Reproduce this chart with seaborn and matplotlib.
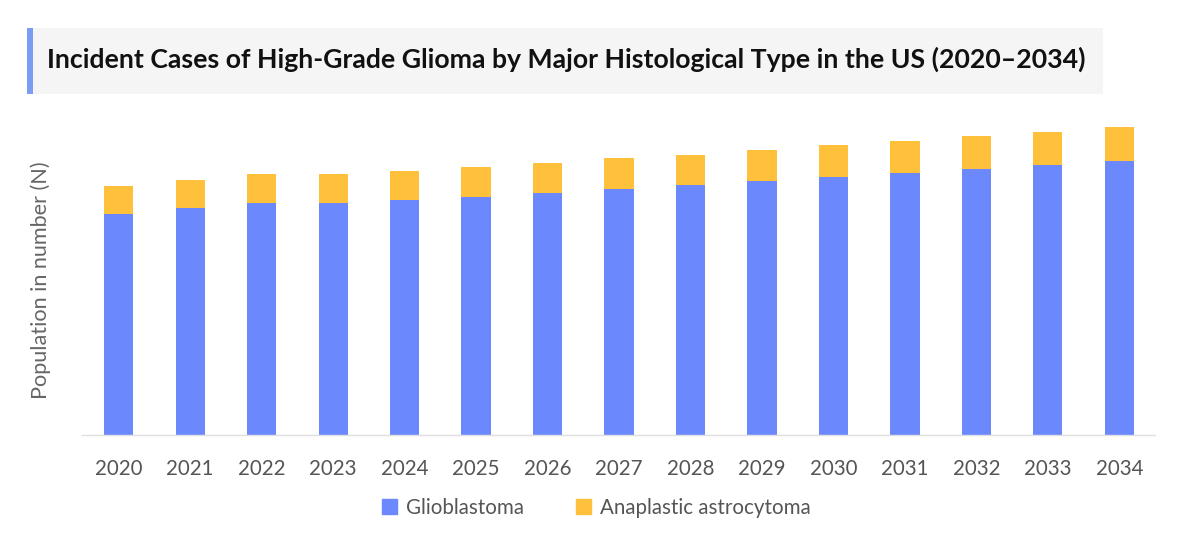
import numpy as np
import pandas as pd
import matplotlib
matplotlib.use("Agg")
import matplotlib.pyplot as plt
import matplotlib.patches as mpatches
import seaborn as sns

# -------------------------------
# Data
# -------------------------------
years = ["2020", "2021", "2022", "2023", "2024", "2025", "2026", "2027",
         "2028", "2029", "2030", "2031", "2032", "2033", "2034"]
glioblastoma = [11050, 11350, 11600, 11600, 11750, 11900, 12100, 12300,
                12500, 12700, 12900, 13100, 13300, 13500, 13700]
anaplastic = [1400, 1400, 1450, 1450, 1450, 1500, 1500, 1550,
              1500, 1550, 1600, 1600, 1630, 1650, 1700]
series_names = ["Glioblastoma", "Anaplastic astrocytoma"]

title = "Incident Cases of High-Grade Glioma by Major Histological Type in the US (2020\u20132034)"
ylabel = "Population in number (N)"

BLUE = "#6b89fd"
YELLOW = "#ffc13b"

df = pd.DataFrame({"Year": years, "Glioblastoma": glioblastoma,
                   "Anaplastic": anaplastic})
df["Total"] = df["Glioblastoma"] + df["Anaplastic"]

sns.set_style("white")
plt.rcParams["font.family"] = ["Lato", "DejaVu Sans"]

fig = plt.figure(figsize=(12, 5.39), dpi=100)
ax = fig.add_axes([0.068, 0.193, 0.8945, 0.594])

# stacked bars: total first, then the bottom series over it
sns.barplot(data=df, x="Year", y="Total", color=YELLOW, width=0.41,
            saturation=1, linewidth=0, ax=ax)
sns.barplot(data=df, x="Year", y="Glioblastoma", color=BLUE, width=0.41,
            saturation=1, linewidth=0, ax=ax)

ax.set_xlim(-0.52, 14.5)
ax.set_ylim(0, 16000)
ax.set_yticks([])
ax.set_xlabel("")
ax.set_ylabel(ylabel, fontsize=15.6, color="#666666", va="center")
ax.yaxis.set_label_coords(-0.038, 0.484)
ax.tick_params(axis="x", length=0, labelsize=14.8, labelcolor="#555555", pad=17)

for side in ["top", "right", "left"]:
    ax.spines[side].set_visible(False)
ax.spines["bottom"].set_color("#e0e0e0")
ax.spines["bottom"].set_linewidth(1)

# -------------------------------
# Title box
# -------------------------------
fig.patches.append(mpatches.Rectangle((27 / 1200, 1 - 94 / 539), 1076 / 1200, 66 / 539,
                                      transform=fig.transFigure, facecolor="#f5f5f5",
                                      edgecolor="none", zorder=0))
fig.patches.append(mpatches.Rectangle((27 / 1200, 1 - 94 / 539), 6 / 1200, 66 / 539,
                                      transform=fig.transFigure, facecolor="#7b9cf5",
                                      edgecolor="none", zorder=1))
fig.text(47 / 1200, 1 - 59 / 539, title, fontsize=19.2, fontweight="bold",
         color="#111111", va="center", ha="left")

# -------------------------------
# Legend
# -------------------------------
handles = [mpatches.Patch(color=BLUE, label=series_names[0]),
           mpatches.Patch(color=YELLOW, label=series_names[1])]
fig.legend(handles=handles, loc="center", bbox_to_anchor=(0.497, 1 - 508 / 539),
           ncol=2, frameon=False, fontsize=14.8, handlelength=0.75, handleheight=0.75,
           handletextpad=0.45, columnspacing=2.5, labelcolor="#555555")

fig.savefig("out.png", dpi=100)
